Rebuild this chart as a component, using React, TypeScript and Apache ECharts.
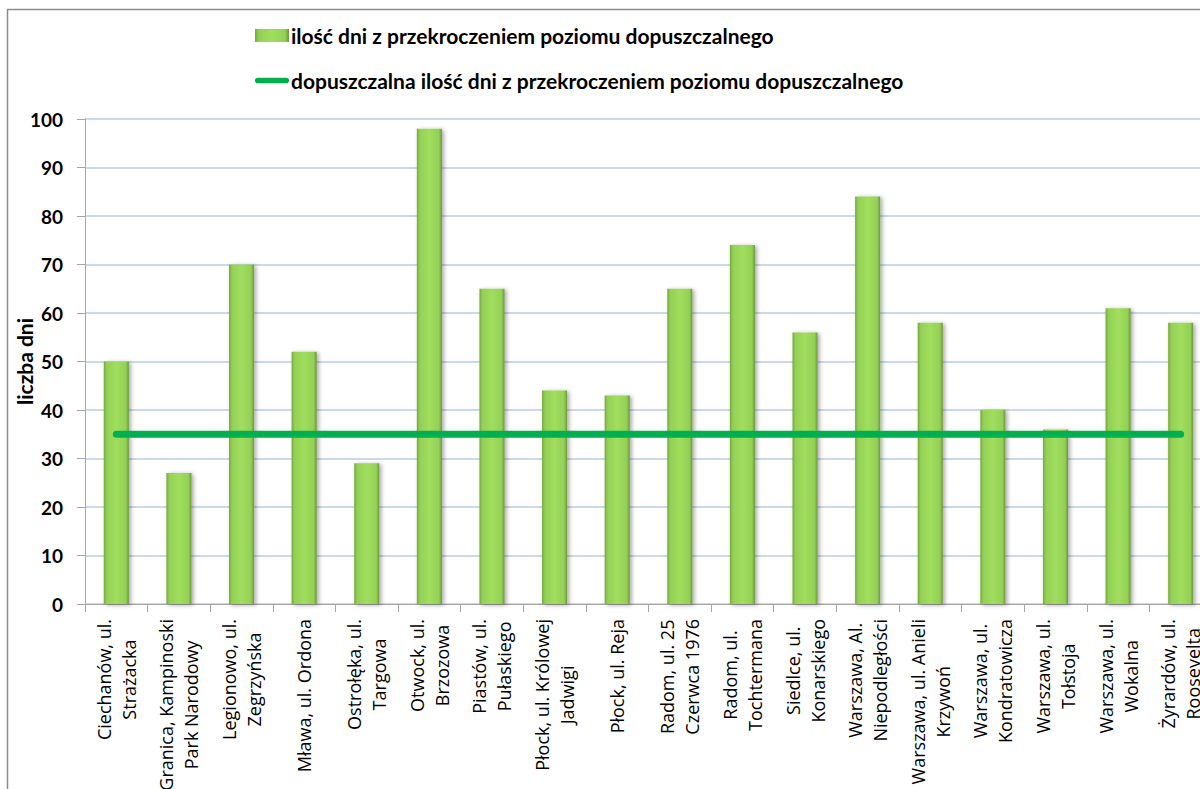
import React, { useEffect, useRef } from "react";
import * as echarts from "echarts";

// Measuring stations (two-line labels split with \n)
const categories = [
  "Ciechanów, ul.\nStrażacka",
  "Granica, Kampinoski\nPark Narodowy",
  "Legionowo, ul.\nZegrzyńska",
  "Mława, ul. Ordona",
  "Ostrołęka, ul.\nTargowa",
  "Otwock, ul.\nBrzozowa",
  "Piastów, ul.\nPułaskiego",
  "Płock, ul. Królowej\nJadwigi",
  "Płock, ul. Reja",
  "Radom, ul. 25\nCzerwca 1976",
  "Radom, ul.\nTochtermana",
  "Siedlce, ul.\nKonarskiego",
  "Warszawa, Al.\nNiepodległości",
  "Warszawa, ul. Anieli\nKrzywoń",
  "Warszawa, ul.\nKondratowicza",
  "Warszawa, ul.\nTołstoja",
  "Warszawa, ul.\nWokalna",
  "Żyrardów, ul.\nRoosevelta",
];

// Number of days exceeding the limit value
const exceedDays = [50, 27, 70, 52, 29, 98, 65, 44, 43, 65, 74, 56, 84, 58, 40, 36, 61, 58];

// Permitted number of days exceeding the limit value
const allowedDays = [35, 35, 35, 35, 35, 35, 35, 35, 35, 35, 35, 35, 35, 35, 35, 35, 35, 35];

const yTicks = { min: 0, max: 100, interval: 10 };

const barName = "ilość dni z przekroczeniem poziomu dopuszczalnego";
const lineName = "dopuszczalna ilość dni z przekroczeniem poziomu dopuszczalnego";

const FONT = "Lato, 'Open Sans', sans-serif";
const LABEL_FONT = "'Open Sans', Lato, sans-serif";

// Rounded thick stroke used as the legend marker of the limit line
const LINE_ICON = "path://M3,0 L33,0 A3,3 0 0 1 33,6 L3,6 A3,3 0 0 1 3,0 Z";

export default function App() {
  const ref = useRef<HTMLDivElement>(null);

  useEffect(() => {
    if (!ref.current) return;
    const chart = echarts.init(ref.current, undefined, { renderer: "svg" });

    const barFill = new echarts.graphic.LinearGradient(0, 0, 1, 0, [
      { offset: 0, color: "#76a83e" },
      { offset: 0.12, color: "#94d056" },
      { offset: 0.5, color: "#a0de5d" },
      { offset: 0.88, color: "#94d056" },
      { offset: 1, color: "#6a9838" },
    ]);

    chart.setOption({
      animation: false,
      backgroundColor: "#ffffff",
      textStyle: { fontFamily: FONT, color: "#000" },
      graphic: [
        {
          type: "rect",
          shape: { x: 7.5, y: 9.5, width: 1400, height: 1000 },
          style: { fill: "none", stroke: "#8c8c8c", lineWidth: 1.5 },
          silent: true,
          z: -10,
        },
      ],
      legend: {
        orient: "vertical",
        left: 250,
        top: 20,
        itemWidth: 34,
        itemHeight: 13,
        itemGap: 24,
        symbolKeepAspect: true,
        textStyle: { fontFamily: FONT, fontSize: 21, fontWeight: "bold", color: "#000", padding: [0, 0, 0, -3] },
        data: [
          { name: barName, icon: "rect" },
          { name: lineName, icon: LINE_ICON, itemStyle: { color: "#00b050" } },
        ],
      },
      grid: { left: 85, top: 119, bottom: 185, width: 1127, containLabel: false, outerBoundsMode: "none" },
      xAxis: {
        type: "category",
        data: categories,
        axisLine: { lineStyle: { color: "#a6a6a6", width: 1 } },
        axisTick: { show: true, length: 8, lineStyle: { color: "#a6a6a6" } },
        axisLabel: {
          rotate: 90,
          interval: 0,
          margin: 15,
          fontSize: 18,
          lineHeight: 25,
          fontFamily: LABEL_FONT,
          color: "#000",
          formatter: (v: string) =>
            v
              .split("\n")
              .map((l) => `{c|${l}}`)
              .join("\n"),
          rich: {
            c: { align: "center", fontSize: 18, lineHeight: 25, fontFamily: LABEL_FONT, color: "#000" },
          },
        },
      },
      yAxis: {
        type: "value",
        min: yTicks.min,
        max: yTicks.max,
        interval: yTicks.interval,
        name: "liczba dni",
        nameLocation: "middle",
        nameGap: 50,
        nameMoveOverlap: false,
        nameTextStyle: { fontFamily: FONT, fontSize: 21, fontWeight: "bold", color: "#000" },
        axisLine: { show: true, lineStyle: { color: "#a6a6a6", width: 1 } },
        axisTick: { show: true, length: 8, lineStyle: { color: "#a6a6a6" } },
        axisLabel: { fontFamily: FONT, fontSize: 19, fontWeight: "bold", color: "#000", margin: 22 },
        splitLine: { lineStyle: { color: "#b9cde5", width: 1.5 } },
      },
      series: [
        {
          name: barName,
          type: "bar",
          data: exceedDays,
          barWidth: "40%",
          itemStyle: {
            color: barFill,
            shadowColor: "rgba(0,0,0,0.35)",
            shadowBlur: 4,
            shadowOffsetX: 2,
            shadowOffsetY: 1,
          },
          z: 2,
        },
        {
          name: lineName,
          type: "line",
          data: allowedDays,
          symbol: "none",
          lineStyle: { color: "#00b050", width: 7, cap: "round" },
          itemStyle: { color: "#00b050" },
          z: 3,
        },
      ],
    });

    return () => chart.dispose();
  }, []);

  return (
    <div style={{ position: "fixed", left: 0, top: 0, width: 1200, height: 789, overflow: "hidden", background: "#fff" }}>
      <div ref={ref} style={{ width: 1240, height: 789 }} />
    </div>
  );
}
